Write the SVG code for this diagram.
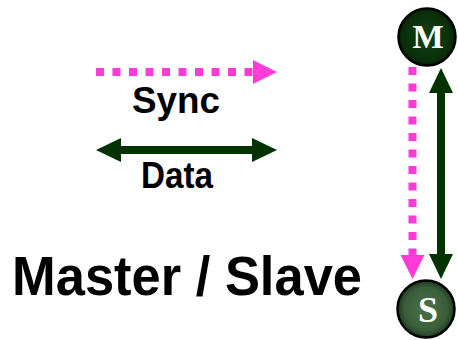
<svg xmlns="http://www.w3.org/2000/svg" width="458" height="340" viewBox="0 0 458 340">
<defs>
<style>
.lbl{font-family:"Liberation Sans",Arial,sans-serif;font-weight:bold;fill:#000}
.sync{stroke:#ff3dd6;stroke-width:8;fill:none;stroke-dasharray:8 8.5}
.data{stroke:#003300;stroke-width:8;fill:none}
.node{stroke:#000;stroke-width:2.5}
.nl{font-family:"Liberation Serif","Times New Roman",serif;font-weight:bold;fill:#fff;text-anchor:middle}
</style>
<radialGradient id="gm" cx="50%" cy="50%" r="50%">
<stop offset="0" stop-color="#144014"/>
<stop offset="0.8" stop-color="#0a300a"/>
<stop offset="1" stop-color="#062406"/>
</radialGradient>
<radialGradient id="gs" cx="50%" cy="50%" r="50%">
<stop offset="0" stop-color="#4a704a"/>
<stop offset="0.75" stop-color="#3a5e3a"/>
<stop offset="1" stop-color="#1f3a1f"/>
</radialGradient>
<marker id="ap" markerWidth="24" markerHeight="24" refX="0" refY="12" orient="auto" markerUnits="userSpaceOnUse">
<path d="M0,0 L24,12 L0,24 Z" fill="#ff3dd6"/>
</marker>
<marker id="ag" markerWidth="25" markerHeight="24" refX="0" refY="12" orient="auto-start-reverse" markerUnits="userSpaceOnUse">
<path d="M0,0 L25,12 L0,24 Z" fill="#003300"/>
</marker>
</defs>
<g id="connectors">
<path class="sync" d="M96,72 H253" marker-end="url(#ap)"/>
<path class="data" d="M121,150 H252" marker-start="url(#ag)" marker-end="url(#ag)"/>
<path class="sync" d="M412.5,67 V255" marker-end="url(#ap)"/>
<path class="data" d="M441,93 V254" marker-start="url(#ag)" marker-end="url(#ag)"/>
</g>
<g id="legend">
<text class="lbl" x="132" y="113" font-size="36" textLength="88" lengthAdjust="spacingAndGlyphs">Sync</text>
<text class="lbl" x="141" y="188" font-size="36" textLength="72" lengthAdjust="spacingAndGlyphs">Data</text>
</g>
<g id="title">
<text class="lbl" x="12" y="295" font-size="56" textLength="350" lengthAdjust="spacingAndGlyphs">Master / Slave</text>
</g>
<g id="master">
<circle class="node" cx="427" cy="37" r="28.5" fill="url(#gm)"/>
<text class="nl" x="428" y="47.5" font-size="33">M</text>
</g>
<g id="slave">
<circle class="node" cx="426" cy="309" r="28.5" fill="url(#gs)"/>
<text class="nl" x="428" y="322" font-size="36">S</text>
</g>
</svg>
